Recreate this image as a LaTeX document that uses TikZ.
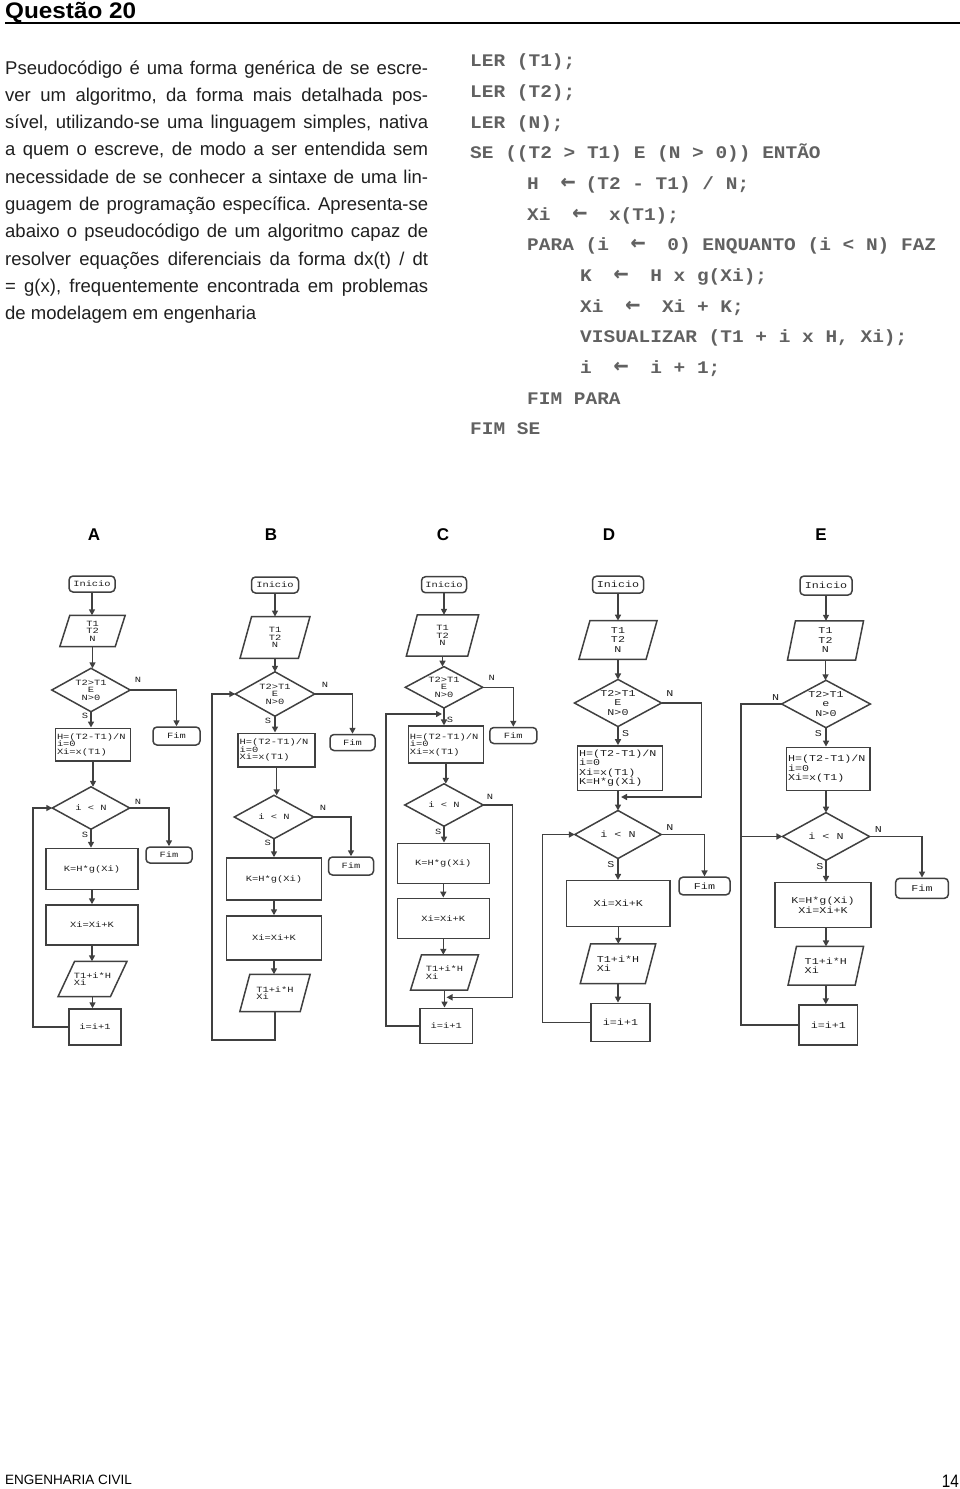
\documentclass[tikz,border=0pt]{standalone}
\usepackage{fontspec}
\usepackage{graphicx}
\setmainfont{Liberation Sans}
\newfontfamily\pcode[FakeStretch=1.1]{Liberation Mono}
\newfontfamily\fcf[FakeStretch=1.3]{Liberation Mono}
\newfontfamily\arrf{DejaVu Sans Mono}
\usetikzlibrary{arrows.meta,calc}
\newcommand\la{\makebox[11.7pt]{\arrf\bfseries\fontsize{25}{25}\selectfont ←}}
\frenchspacing
\tikzset{
  ln/.style={draw=black!75, line width=1.5pt},
  arr/.style={ln, -{Triangle[length=6pt,width=6pt]}},
  shp/.style={draw=black!75, line width=1.5pt},
  fa/.style={font=\fcf\fontsize{8}{7.5}\selectfont, text=black!88},
  fd/.style={font=\fcf\fontsize{9}{9.5}\selectfont, text=black!88},
  term/.style={shp, rounded corners=4pt, inner sep=0pt},
  proc/.style={shp, inner sep=1.5pt, align=center},
  ghost/.style={inner sep=0pt, align=center},
  lbl/.style={inner sep=0pt},
  body/.style={anchor=base west, inner sep=0pt, font=\fontsize{18.5}{27.3}\selectfont, text=black!88},
  pc/.style={anchor=base west, inner sep=0pt, font=\pcode\bfseries\fontsize{17.7}{20}\selectfont, text=black!62},
  letter/.style={inner sep=0pt, font=\bfseries\fontsize{17}{20}\selectfont},
}
% parallelogram: style, name, x, y, w, h, half skew, text
\newcommand\iob[8]{%
  \node[ghost,#1,minimum width=#5pt,minimum height=#6pt] (#2) at (#3,#4) {#8};
  \draw[shp] ([xshift=-#7pt]#2.south west) -- ([xshift=-#7pt]#2.south east) -- ([xshift=#7pt]#2.north east) -- ([xshift=#7pt]#2.north west) -- cycle;}
% diamond: style, name, x, y, w, h, text
\newcommand\dec[7]{%
  \node[ghost,#1,minimum width=#5pt,minimum height=#6pt] (#2) at (#3,#4) {#7};
  \draw[shp] (#2.north) -- (#2.east) -- (#2.south) -- (#2.west) -- cycle;}
\newcommand\vc[2]{\draw[arr] (#1.south) -- (#1.south |- #2.north);}
\begin{document}
\begin{tikzpicture}[x=1pt,y=-1pt]
\useasboundingbox (0,0) rectangle (960,1489);
% header
\node[anchor=base west, inner sep=0pt, font=\bfseries\fontsize{22.5}{24}\selectfont] (hd) at (5,18) {\scalebox{1.08}[1]{Questão 20}};
\draw[line width=2.5pt] (5,23) -- (960,23);
% body text
\node[body] (b1) at (5,74) {\makebox[423pt][s]{Pseudocódigo é uma forma genérica de se escre-}};
\node[body] (b2) at (5,101.3) {\makebox[423pt][s]{ver um algoritmo, da forma mais detalhada pos-}};
\node[body] (b3) at (5,128.6) {\makebox[423pt][s]{sível, utilizando-se uma linguagem simples, nativa}};
\node[body] (b4) at (5,155.9) {\makebox[423pt][s]{a quem o escreve, de modo a ser entendida sem}};
\node[body] (b5) at (5,183.2) {\makebox[423pt][s]{necessidade de se conhecer a sintaxe de uma lin-}};
\node[body] (b6) at (5,210.5) {\makebox[423pt][s]{guagem de programação específica. Apresenta-se}};
\node[body] (b7) at (5,237.8) {\makebox[423pt][s]{abaixo o pseudocódigo de um algoritmo capaz de}};
\node[body] (b8) at (5,265.1) {\makebox[423pt][s]{resolver equações diferenciais da forma dx(t) / dt}};
\node[body] (b9) at (5,292.4) {\makebox[423pt][s]{= g(x), frequentemente encontrada em problemas}};
\node[body] (b10) at (5,319.7) {de modelagem em engenharia};
% pseudocode
\node[pc] (p1) at (470,66.7) {LER~(T1);};
\node[pc] (p2) at (470,97.4) {LER~(T2);};
\node[pc] (p3) at (470,128.0) {LER~(N);};
\node[pc] (p4) at (470,158.7) {SE~((T2~>~T1)~E~(N~>~0))~ENTÃO};
\node[pc] (p5) at (527,189.4) {H~~\la~(T2~-~T1)~/~N;};
\node[pc] (p6) at (527,220.0) {Xi~~\la~~x(T1);};
\node[pc] (p7) at (527,250.7) {PARA~(i~~\la~~0)~ENQUANTO~(i~<~N)~FAZ};
\node[pc] (p8) at (580,281.4) {K~~\la~~H~x~g(Xi);};
\node[pc] (p9) at (580,312.1) {Xi~~\la~~Xi~+~K;};
\node[pc] (p10) at (580,342.7) {VISUALIZAR~(T1~+~i~x~H,~Xi);};
\node[pc] (p11) at (580,373.4) {i~~\la~~i~+~1;};
\node[pc] (p12) at (527,404.1) {FIM~PARA};
\node[pc] (p13) at (470,434.7) {FIM~SE};
% option letters
\node[letter] (LA) at (94,535) {A};
\node[letter] (LB) at (271,535) {B};
\node[letter] (LC) at (443,535) {C};
\node[letter] (LD) at (609,535) {D};
\node[letter] (LE) at (821,535) {E};
% ---------------- A
\node[term,fa,minimum width=46pt,minimum height=16pt] (tA) at (92,584) {Inicio};
\iob{fa}{pA}{92.5}{631}{55}{31}{5}{T1\\T2\\N}
\dec{fa}{dA1}{91}{690}{78}{43}{T2>T1\\E\\N>0}
\node[term,fa,minimum width=47pt,minimum height=18pt] (fA1) at (176.5,736) {Fim};
\node[proc,fa,minimum width=75pt,minimum height=32.5pt,text width=72pt,align=left] (hA) at (93,744.5) {H=(T2-T1)/N\\i=0\\Xi=x(T1)};
\dec{fa}{dA2}{91}{808}{77}{42}{i < N}
\node[term,fa,minimum width=46pt,minimum height=16pt] (fA2) at (169,855) {Fim};
\node[proc,fa,minimum width=92pt,minimum height=41pt] (kA) at (92,869) {K=H*g(Xi)};
\node[proc,fa,minimum width=92pt,minimum height=40pt] (xA) at (92,925) {Xi=Xi+K};
\iob{fa,align=left}{vA}{92.5}{979}{52}{35}{8.3}{T1+i*H\\Xi}
\node[proc,fa,minimum width=52pt,minimum height=36pt] (iA) at (95,1027) {i=i+1};
\coordinate (lA) at (33,1027);
\vc{tA}{pA} \vc{pA}{dA1} \vc{dA1}{hA} \vc{hA}{dA2} \vc{dA2}{kA} \vc{kA}{xA} \vc{xA}{vA} \vc{vA}{iA}
\draw[arr] (dA1.east) -| (fA1.north);
\draw[arr] (dA2.east) -| (fA2.north);
\draw[arr] (iA.west) -- (iA.west -| lA) |- (dA2.west);
\node[lbl,fa] (nA1) at (138,680) {N};
\node[lbl,fa] (sA1) at (85,716) {S};
\node[lbl,fa] (nA2) at (138,802) {N};
\node[lbl,fa] (sA2) at (85,835) {S};
% ---------------- B
\node[term,fa,minimum width=47pt,minimum height=16pt] (tB) at (275,585) {Inicio};
\iob{fa}{pB}{275}{637.5}{58}{41.5}{5.8}{T1\\T2\\N}
\dec{fa}{dB1}{275}{694}{79}{44}{T2>T1\\E\\N>0}
\node[term,fa,minimum width=45pt,minimum height=16pt] (fB1) at (352.5,742.5) {Fim};
\node[proc,fa,minimum width=77pt,minimum height=33.5pt,text width=74pt,align=left] (hB) at (276.7,750) {H=(T2-T1)/N\\i=0\\Xi=x(T1)};
\dec{fa}{dB2}{274}{817}{79}{43}{i < N}
\node[term,fa,minimum width=45pt,minimum height=18pt] (fB2) at (351,866) {Fim};
\node[proc,fa,minimum width=95pt,minimum height=42pt] (kB) at (274,879) {K=H*g(Xi)};
\node[proc,fa,minimum width=95pt,minimum height=44pt] (xB) at (274,938) {Xi=Xi+K};
\iob{fa,align=left}{vB}{275}{993}{60}{37}{5}{T1+i*H\\Xi}
\coordinate (lB) at (212,1040);
\vc{tB}{pB} \vc{pB}{dB1} \vc{dB1}{hB} \vc{hB}{dB2} \vc{dB2}{kB} \vc{kB}{xB} \vc{xB}{vB}
\draw[arr] (dB1.east) -| (fB1.north);
\draw[arr] (dB2.east) -| (fB2.north);
\draw[arr] (vB.south) |- (lB) |- (dB1.west);
\node[lbl,fa] (nB1) at (325,685) {N};
\node[lbl,fa] (sB1) at (268,721) {S};
\node[lbl,fa] (nB2) at (323,808) {N};
\node[lbl,fa] (sB2) at (267.7,843) {S};
% ---------------- C
\node[term,fa,minimum width=45pt,minimum height=16pt] (tC) at (444,584.7) {Inicio};
\iob{fa}{pC}{442.5}{635.5}{61}{41}{5.5}{T1\\T2\\N}
\dec{fa}{dC1}{444}{687.3}{77}{41}{T2>T1\\E\\N>0}
\node[term,fa,minimum width=47pt,minimum height=16pt] (fC1) at (513.3,735.5) {Fim};
\node[proc,fa,minimum width=75pt,minimum height=37pt,text width=72pt,align=left] (hC) at (445.8,744.7) {H=(T2-T1)/N\\i=0\\Xi=x(T1)};
\dec{fa}{dC2}{444}{805}{78}{42}{i < N}
\node[proc,fa,minimum width=92pt,minimum height=40pt] (kC) at (443.3,863.3) {K=H*g(Xi)};
\node[proc,fa,minimum width=92pt,minimum height=40pt] (xC) at (443.3,918.3) {Xi=Xi+K};
\iob{fa,align=left}{vC}{444.5}{972.5}{56.6}{35}{5.5}{T1+i*H\\Xi}
\node[proc,fa,minimum width=52.7pt,minimum height=35pt] (iC) at (446.3,1025.8) {i=i+1};
\coordinate (lC) at (386,1024);
\coordinate (jC1) at (442,714);
\coordinate (cC2) at (512.7,997.3);
\coordinate (jC2) at (446.5,997.3);
\vc{tC}{pC} \vc{pC}{dC1} \vc{dC1}{hC} \vc{hC}{dC2} \vc{dC2}{kC} \vc{kC}{xC} \vc{xC}{vC} \vc{vC}{iC}
\draw[arr] (dC1.east) -| (fC1.north);
\draw[arr] (dC2.east) -| (cC2) -- (jC2);
\draw[arr] (iC.west) -- (iC.west -| lC) |- (jC1);
\node[lbl,fa] (nC1) at (491.7,678.3) {N};
\node[lbl,fa] (sC1) at (450,720) {S};
\node[lbl,fa] (nC2) at (490,796.7) {N};
\node[lbl,fa] (sC2) at (438.3,831.7) {S};
% ---------------- D
\node[term,fd,minimum width=51pt,minimum height=17pt] (tD) at (618,584.7) {Inicio};
\iob{fd}{pD}{618}{640}{66.7}{38.3}{5.5}{T1\\T2\\N}
\dec{fd}{dD1}{618}{703}{86.7}{46.7}{T2>T1\\E\\N>0}
\node[proc,fd,minimum width=84.7pt,minimum height=44.7pt,text width=81.7pt,align=left] (hD) at (620,768.3) {H=(T2-T1)/N\\i=0\\Xi=x(T1)\\K=H*g(Xi)};
\dec{fd}{dD2}{618}{834.5}{86}{47.6}{i < N}
\node[term,fd,minimum width=51pt,minimum height=17.7pt] (fD) at (704.5,886) {Fim};
\node[proc,fd,minimum width=103.3pt,minimum height=46pt] (xD) at (618.3,903.7) {Xi=Xi+K};
\iob{fd,align=left}{vD}{618}{963.7}{64.7}{39.3}{5.2}{T1+i*H\\Xi}
\node[proc,fd,minimum width=59pt,minimum height=38.3pt] (iD) at (620.5,1022.5) {i=i+1};
\coordinate (cD1) at (701.7,797);
\coordinate (jD1) at (621,797);
\coordinate (lD) at (542.3,1022);
\vc{tD}{pD} \vc{pD}{dD1} \vc{dD1}{hD} \vc{dD2}{xD} \vc{xD}{vD} \vc{vD}{iD}
\draw[arr] (dD1.south |- hD.south) -- (dD1.south |- dD2.north);
\draw[arr] (dD1.east) -| (cD1) -- (jD1);
\draw[arr] (dD2.east) -| (fD.north);
\draw[arr] (iD.west) -- (iD.west -| lD) |- (dD2.west);
\node[lbl,fd] (nD1) at (670,693.3) {N};
\node[lbl,fd] (sD1) at (625.7,733.3) {S};
\node[lbl,fd] (nD2) at (670,827.3) {N};
\node[lbl,fd] (sD2) at (611,865) {S};
% ---------------- E
\node[term,fd,minimum width=52pt,minimum height=19pt] (tE) at (826,585.5) {Inicio};
\iob{fd}{pE}{825.5}{640.5}{67.7}{39}{4}{T1\\T2\\N}
\dec{fd}{dE1}{826}{704}{88.3}{47}{T2>T1\\e\\N>0}
\node[proc,fd,minimum width=83.3pt,minimum height=43.3pt,text width=80.3pt,align=left] (hE) at (828.3,769) {H=(T2-T1)/N\\i=0\\Xi=x(T1)};
\dec{fd}{dE2}{826}{836.5}{86.7}{47.3}{i < N}
\node[term,fd,minimum width=52.7pt,minimum height=20pt] (fE) at (922,888.3) {Fim};
\node[proc,fd,minimum width=95.7pt,minimum height=44.6pt] (kE) at (823,905) {K=H*g(Xi)\\Xi=Xi+K};
\iob{fd,align=left}{vE}{825.8}{965.8}{66.7}{38.3}{4.2}{T1+i*H\\Xi}
\node[proc,fd,minimum width=58.7pt,minimum height=40pt] (iE) at (828.3,1025) {i=i+1};
\coordinate (lE) at (741,1025);
\vc{tE}{pE} \vc{pE}{dE1} \vc{dE1}{hE} \vc{dE2}{kE} \vc{vE}{iE}
\draw[arr] (dE1.south |- hE.south) -- (dE1.south |- dE2.north);
\draw[arr] (dE2.south |- kE.south) -- (dE2.south |- vE.north);
\draw[arr] (dE2.east) -| (fE.north);
\draw[ln] (dE1.west) -| (lE) -- (iE.west);
\draw[arr] (dE2.west -| lE) -- (dE2.west);
\node[lbl,fd] (nE1) at (775.7,697.3) {N};
\node[lbl,fd] (sE1) at (818.3,733.3) {S};
\node[lbl,fd] (nE2) at (878.3,829.3) {N};
\node[lbl,fd] (sE2) at (820,866.7) {S};
% footer
\node[anchor=west, inner sep=0pt, font=\fontsize{13.5}{15}\selectfont] (ft) at (5,1480) {ENGENHARIA CIVIL};
\node[anchor=east, inner sep=0pt, font=\fontsize{18}{19}\selectfont] (pg) at (959,1481.5) {\scalebox{0.85}[1]{14}};
\end{tikzpicture}
\end{document}
